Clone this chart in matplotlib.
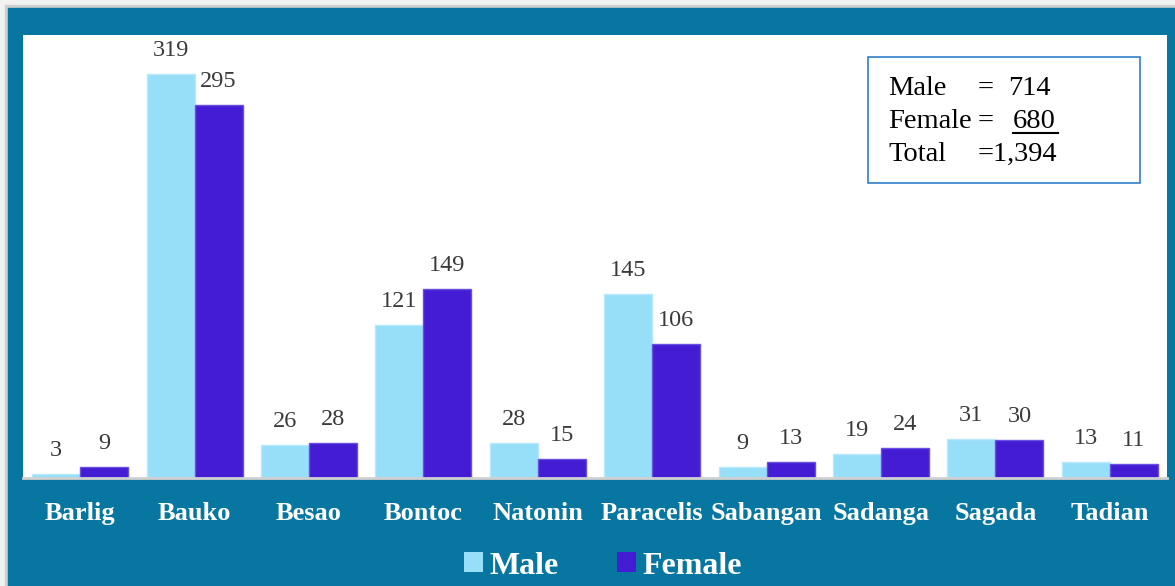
import matplotlib.pyplot as plt
import numpy as np
from matplotlib.patches import Rectangle, Patch
from matplotlib.lines import Line2D

# Data
towns = ['Barlig', 'Bauko', 'Besao', 'Bontoc', 'Natonin',
         'Paracelis', 'Sabangan', 'Sadanga', 'Sagada', 'Tadian']
male = [3, 319, 26, 121, 28, 145, 9, 19, 31, 13]
female = [9, 295, 28, 149, 15, 106, 13, 24, 30, 11]

W, H = 1175, 586
teal = '#0777a2'
c_male = '#97dff9'
c_female = '#441cd4'
serif = ['Liberation Serif', 'DejaVu Serif']

fig = plt.figure(figsize=(W / 100, H / 100), dpi=100)
fig.patch.set_facecolor('#f2f2f2')

def px(x, y):
    # image pixel -> figure fraction
    return x / W, 1 - y / H

# thin gray edge, then teal frame (behind the axes)
fig.patches.append(Rectangle(px(5, H), (W - 5) / W, (H - 5) / H,
                             transform=fig.transFigure, color='#cfcfcf', zorder=-6))
fig.patches.append(Rectangle(px(8, H), (W - 8) / W, (H - 8) / H,
                             transform=fig.transFigure, color=teal, zorder=-5))

ax = fig.add_axes([23 / W, (H - 478) / H, 1144 / W, 443 / H])
ax.set_facecolor('white')

x = np.arange(len(towns))
bw = 0.42
b1 = ax.bar(x - bw / 2, male, bw, color=c_male, edgecolor='#b8e9fb', linewidth=1)
b2 = ax.bar(x + bw / 2, female, bw, color=c_female, edgecolor='#6a50e0', linewidth=1)

for bars, vals in ((b1, male), (b2, female)):
    for b, v in zip(bars, vals):
        ax.annotate(str(v), (b.get_x() + b.get_width() / 2, v),
                    xytext=(0, 13), textcoords='offset pixels',
                    ha='center', va='bottom', fontsize=17.5,
                    family=serif, color='#3a3a3a')

ax.set_xlim(-0.5, 9.5)
ax.set_ylim(0, 350)
ax.set_yticks([])
ax.set_xticks(x)
ax.set_xticklabels(towns, fontsize=19, fontweight='bold', family=serif, color='white')
ax.tick_params(axis='x', length=0, pad=17)
for s in ('top', 'left', 'right'):
    ax.spines[s].set_visible(False)
ax.spines['bottom'].set_color('#d0d0d0')
ax.spines['bottom'].set_linewidth(2)

# totals box
fig.patches.append(Rectangle(px(868, 183), (1140 - 868) / W, (183 - 57) / H,
                             transform=fig.transFigure, facecolor='white',
                             edgecolor='#2f7fc8', linewidth=1.2, zorder=3))
tk = dict(fontsize=20.5, family=serif, color='black', ha='left', va='baseline', zorder=4)
fig.text(*px(888, 95), 'Male', **tk)
fig.text(*px(978, 95), '=', **tk)
fig.text(*px(1008, 95), '714', **tk)
fig.text(*px(888, 128), 'Female', **tk)
fig.text(*px(978, 128), '=', **tk)
fig.text(*px(1013, 128), '680', **tk)
fig.lines.append(Line2D([1013 / W, 1058 / W], [1 - 133 / H, 1 - 133 / H],
                        transform=fig.transFigure, color='black', linewidth=1.5, zorder=4))
fig.text(*px(888, 161), 'Total', **tk)
fig.text(*px(978, 161), '=1,394', **tk)

handles = [Patch(facecolor=c_male), Patch(facecolor=c_female)]
leg = fig.legend(handles, ['Male', 'Female'], loc='center', bbox_to_anchor=(603 / W, 1 - 566 / H),
                 ncol=2, frameon=False, handlelength=0.6, handleheight=0.6,
                 handletextpad=0.2, columnspacing=1.8,
                 prop={'family': serif, 'weight': 'bold', 'size': 23})
for t in leg.get_texts():
    t.set_color('white')

fig.savefig('out.png', dpi=100, facecolor=fig.get_facecolor())
